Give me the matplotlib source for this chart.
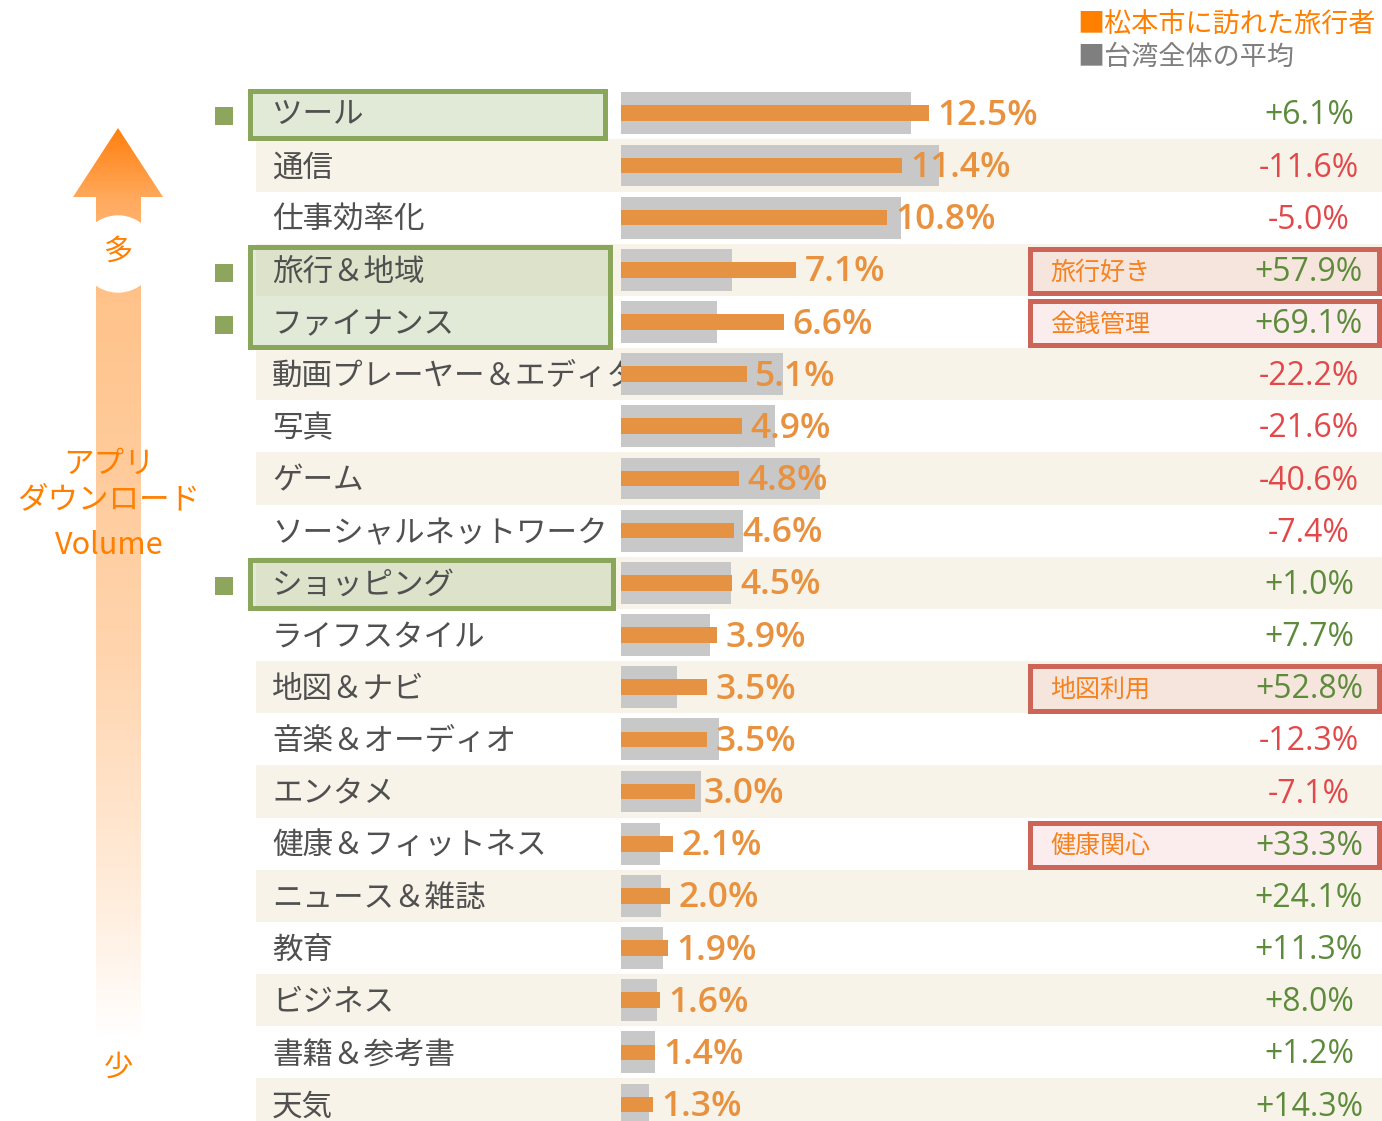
import numpy as np
import matplotlib
matplotlib.use('Agg')
import matplotlib.pyplot as plt
import matplotlib.transforms as mtransforms
from matplotlib.patches import Rectangle, Polygon, Circle
from matplotlib.colors import LinearSegmentedColormap

plt.rcParams['font.family'] = ['Noto Sans CJK JP', 'DejaVu Sans']

# App categories, ordered by download volume
categories = ['ツール', '通信', '仕事効率化', '旅行＆地域', 'ファイナンス',
              '動画プレーヤー＆エディター', '写真', 'ゲーム', 'ソーシャルネットワーク',
              'ショッピング', 'ライフスタイル', '地図＆ナビ', '音楽＆オーディオ',
              'エンタメ', '健康＆フィットネス', 'ニュース＆雑誌', '教育', 'ビジネス',
              '書籍＆参考書', '天気']
# share of downloads among visitors to Matsumoto (%)
visitor_share = [12.5, 11.4, 10.8, 7.1, 6.6, 5.1, 4.9, 4.8, 4.6, 4.5,
                 3.9, 3.5, 3.5, 3.0, 2.1, 2.0, 1.9, 1.6, 1.4, 1.3]
# Taiwan-wide average share (%)
taiwan_avg = [11.78, 12.90, 11.37, 4.50, 3.90, 6.56, 6.25, 8.08, 4.97, 4.46,
              3.62, 2.29, 3.99, 3.23, 1.58, 1.61, 1.71, 1.48, 1.38, 1.14]
# difference vs. the Taiwan average (%)
change = [6.1, -11.6, -5.0, 57.9, 69.1, -22.2, -21.6, -40.6, -7.4, 1.0,
          7.7, 52.8, -12.3, -7.1, 33.3, 24.1, 11.3, 8.0, 1.2, 14.3]

marked_rows = [0, 3, 4, 9]
green_groups = [(0, 0), (3, 4), (9, 9)]
callouts = {3: '旅行好き', 4: '金銭管理', 11: '地図利用', 14: '健康関心'}

legend_items = ['■松本市に訪れた旅行者', '■台湾全体の平均']

W, H = 1382, 1121
bar_x0 = 621
px_per_pct = 24.64
row0, pitch = 113.3, 52.17
dy = 0.05  # nudges text down onto the row centre

orange = '#e59343'
label_orange = '#e8913f'
bright = '#ff7f00'
stripe = '#f7f3e8'
green = '#5d8b3b'
red = '#e2484a'
num_font = ['Open Sans', 'DejaVu Sans']

fig = plt.figure(figsize=(W / 100, H / 100), dpi=100)

# pixel-space canvas for the decorations
ax = fig.add_axes([0, 0, 1, 1])
ax.set_xlim(0, W)
ax.set_ylim(H, 0)
ax.axis('off')

# bar axes: x in %, y in row index
bx = fig.add_axes([bar_x0 / W, 0, (W - bar_x0) / W, 1])
bx.set_xlim(0, (W - bar_x0) / px_per_pct)
bx.set_ylim((H - row0) / pitch, -row0 / pitch)
bx.axis('off')
bx.patch.set_alpha(0)

rows = np.arange(len(categories))
blend = mtransforms.blended_transform_factory(ax.transData, bx.transData)

# alternating row stripes
for i in rows[1::2]:
    ax.add_patch(Rectangle((256, i - 0.5), W - 256, 1, transform=blend,
                           fc=stripe, ec='none', zorder=0))

# green highlight boxes and markers
for (first, last), x1 in zip(green_groups, [605, 610, 613]):
    ax.add_patch(Rectangle((250, first - 0.43), x1 - 250, last - first + 0.91,
                           transform=blend, fc=(0.77, 0.83, 0.69, 0.5),
                           ec='#8aa65a', lw=3.6, zorder=1))
for i in marked_rows:
    ax.add_patch(Rectangle((215, i - 0.12), 18, 0.345, transform=blend,
                           fc='#8ea55d', ec='none', zorder=1))

for i, name in zip(rows, categories):
    ax.text(272, i + dy, name, transform=blend, ha='left', va='center',
            fontsize=22, color='#505050', zorder=3)

# bars
bx.barh(rows, taiwan_avg, height=0.8, color='#c8c8c8', zorder=1)
bx.barh(rows, visitor_share, height=0.3, color=orange, zorder=2)
for i, v in zip(rows, visitor_share):
    bx.annotate(f'{v:.1f}%', xy=(v, i + dy), xytext=(6, 0), textcoords='offset points',
                ha='left', va='center', fontsize=25.5, fontweight='semibold',
                color=label_orange, family=num_font,
                zorder=3, annotation_clip=False)

# red callouts on the right
for i, name in callouts.items():
    ax.add_patch(Rectangle((1030, i - 0.40), 349, 0.85, transform=blend,
                           fc=(0.957, 0.776, 0.776, 0.3), ec='#cc6458',
                           lw=3.6, zorder=1))
    ax.text(1050, i + dy, name, transform=blend, ha='left', va='center',
            fontsize=18, color='#f5821f', zorder=3)

for i, c in zip(rows, change):
    ax.text(1309, i + dy, f'{c:+.1f}%', transform=blend, ha='center', va='center',
            fontsize=23, color=green if c > 0 else red,
            family=num_font, zorder=3)

# legend
ax.text(1077, 24, legend_items[0], ha='left', va='center', fontsize=19.5, color=bright)
ax.text(1077, 57, legend_items[1], ha='left', va='center', fontsize=19.5, color='#7f7f7f')

# volume arrow with a fading gradient
arrow_cmap = LinearSegmentedColormap.from_list('arrow', [
    (0.0, '#ff8010'), (0.079, '#ffab60'), (0.189, '#ffc38b'),
    (0.572, '#ffd4ad'), (0.846, '#ffeddc'), (1.0, '#ffffff')])
grad = np.linspace(0, 1, 512).reshape(-1, 1)
im = ax.imshow(grad, extent=(70, 166, 1040, 128), origin='upper', cmap=arrow_cmap,
               aspect='auto', zorder=1)
arrow = Polygon([(118, 128), (163, 197), (141, 197), (141, 1040), (96, 1040),
                 (96, 197), (73, 197)], closed=True, transform=ax.transData)
im.set_clip_path(arrow)
ax.set_xlim(0, W)
ax.set_ylim(H, 0)

ax.add_patch(Circle((118, 254), 38, color='white', zorder=2))
ax.add_patch(Circle((118, 1068), 35, color='white', zorder=2))
ax.text(118, 252, '多', ha='center', va='center', fontsize=21, color=bright, zorder=3)
ax.text(118, 1068, '少', ha='center', va='center', fontsize=21, color=bright, zorder=3)

for y, s in [(464, 'アプリ'), (500, 'ダウンロード'), (545, 'Volume')]:
    ax.text(109, y, s, ha='center', va='center', fontsize=22, color=bright, zorder=3)

fig.savefig('out.png', dpi=100)
